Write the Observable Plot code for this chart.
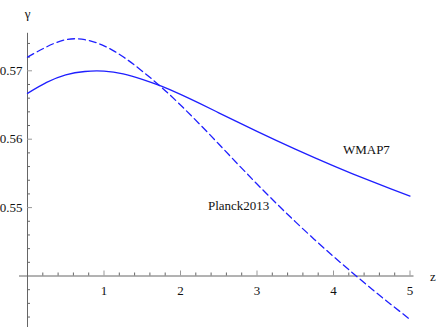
<!DOCTYPE html>
<html>
<head>
<meta charset="utf-8">
<script src="https://cdn.jsdelivr.net/npm/d3@7"></script>
<script src="https://cdn.jsdelivr.net/npm/@observablehq/plot@0.6"></script>
<style>
  html, body { margin: 0; padding: 0; background: #fff; }
  #chart svg { display: block; font-family: "Liberation Serif", serif; }
  #chart svg text { font-family: "Liberation Serif", serif !important; }
</style>
</head>
<body>
<div id="chart"></div>
<script>
// ---- data ----
const zValues = [0, 0.25, 0.5, 0.75, 1.0, 1.25, 1.5, 1.75, 2.0, 2.25, 2.5, 2.75, 3.0, 3.25, 3.5, 3.75, 4.0, 4.25, 4.5, 4.75, 5.0];
const gammaWMAP7 = [0.5667, 0.5683, 0.5694, 0.5699, 0.56995, 0.56955, 0.56875, 0.56775, 0.56655, 0.56523, 0.56386, 0.56249, 0.56114, 0.55982, 0.55854, 0.5573, 0.5561, 0.55494, 0.55382, 0.55274, 0.55169];
const gammaPlanck2013 = [0.5720, 0.5735, 0.57455, 0.57455, 0.57365, 0.57205, 0.56995, 0.5676, 0.5650, 0.5622, 0.5593, 0.55635, 0.55345, 0.55065, 0.54795, 0.54535, 0.54285, 0.54045, 0.5381, 0.53585, 0.53365];
const seriesNames = ["WMAP7", "Planck2013"];
const xMajorTicks = [1, 2, 3, 4, 5];
const xTickLabels = ["1", "2", "3", "4", "5"];
const yMajorTicks = [0.55, 0.56, 0.57];
const yTickLabels = ["0.55", "0.56", "0.57"];
const xAxisLabel = "z";
const yAxisLabel = "γ";

// ---- layout ----
const W = 436, H = 327;
const mL = 27, mR = 26.5, mT = 70.3, mB = 51.5;
const xDomain = [0, 5], yDomain = [0.54, 0.57];
const kx = (W - mL - mR) / (xDomain[1] - xDomain[0]);   // px per unit z
const ky = (H - mT - mB) / (yDomain[1] - yDomain[0]);   // px per unit gamma
const px2x = p => p / kx;
const px2y = p => p / ky;
const y0 = yDomain[0];

const wmap = zValues.map((z, i) => ({z, g: gammaWMAP7[i]}));
const planck = zValues.map((z, i) => ({z, g: gammaPlanck2013[i]}));

// minor ticks
const xMinor = d3.range(1, 26).map(i => i * 0.2).filter(v => Math.abs(v - Math.round(v)) > 1e-6);
const yMinor = d3.range(0, 21).map(i => 0.534 + i * 0.002).filter(v => !yMajorTicks.some(m => Math.abs(m - v) < 1e-6) && Math.abs(v - 0.54) > 1e-6);

const font = "Liberation Serif";
const axisColor = "#666";
const blue = "#1f1fff";

const chart = Plot.plot({
  width: W, height: H,
  marginLeft: mL, marginRight: mR, marginTop: mT, marginBottom: mB,
  x: {domain: xDomain, axis: null},
  y: {domain: yDomain, axis: null},
  style: {background: "#fff", fontFamily: font},
  marks: [
    // axes lines
    Plot.ruleY([y0], {x1: -px2x(8), x2: xDomain[1] + px2x(4), stroke: axisColor, strokeWidth: 1}),
    Plot.ruleX([0], {y1: y0 - px2y(52), y2: yDomain[1] + px2y(37.5), stroke: axisColor, strokeWidth: 1}),
    // x ticks
    Plot.ruleX(xMinor, {x: d => d, y1: y0, y2: y0 + px2y(3), stroke: axisColor, strokeWidth: 1}),
    Plot.ruleX(xMajorTicks, {x: d => d, y1: y0, y2: y0 + px2y(5), stroke: "#999", strokeWidth: 1}),
    // y ticks
    Plot.ruleY(yMinor, {y: d => d, x1: 0, x2: px2x(3), stroke: axisColor, strokeWidth: 1}),
    Plot.ruleY(yMajorTicks, {y: d => d, x1: 0, x2: px2x(5), stroke: "#999", strokeWidth: 1}),
    // tick labels
    Plot.text(xMajorTicks, {x: d => d, y: y0, text: (d, i) => xTickLabels[i], dy: 15, fontSize: 13, fill: "#111", fontFamily: font}),
    Plot.text(yMajorTicks, {x: 0, y: d => d, text: (d, i) => yTickLabels[i], dx: -5, textAnchor: "end", fontSize: 13, fill: "#111", fontFamily: font}),
    // axis labels
    Plot.text([xAxisLabel], {x: xDomain[1], y: y0, text: d => d, dx: 23, dy: 1, fontSize: 13, fill: "#111", fontFamily: font}),
    Plot.text([yAxisLabel], {x: 0, y: yDomain[1], text: d => d, dy: -57, fontSize: 13, fill: "#111", fontFamily: font}),
    // curves
    Plot.line(wmap, {x: "z", y: "g", curve: "natural", stroke: blue, strokeWidth: 1.3}),
    Plot.line(planck, {x: "z", y: "g", curve: "natural", stroke: blue, strokeWidth: 1.3, strokeDasharray: "7,4"}),
    // curve labels
    Plot.text([seriesNames[0]], {x: 4.43, y: 0.5585, text: d => d, fontSize: 13, fill: "#111", fontFamily: font}),
    Plot.text([seriesNames[1]], {x: 2.76, y: 0.5502, text: d => d, fontSize: 13, fill: "#111", fontFamily: font})
  ]
});
document.getElementById("chart").appendChild(chart);
</script>
</body>
</html>
